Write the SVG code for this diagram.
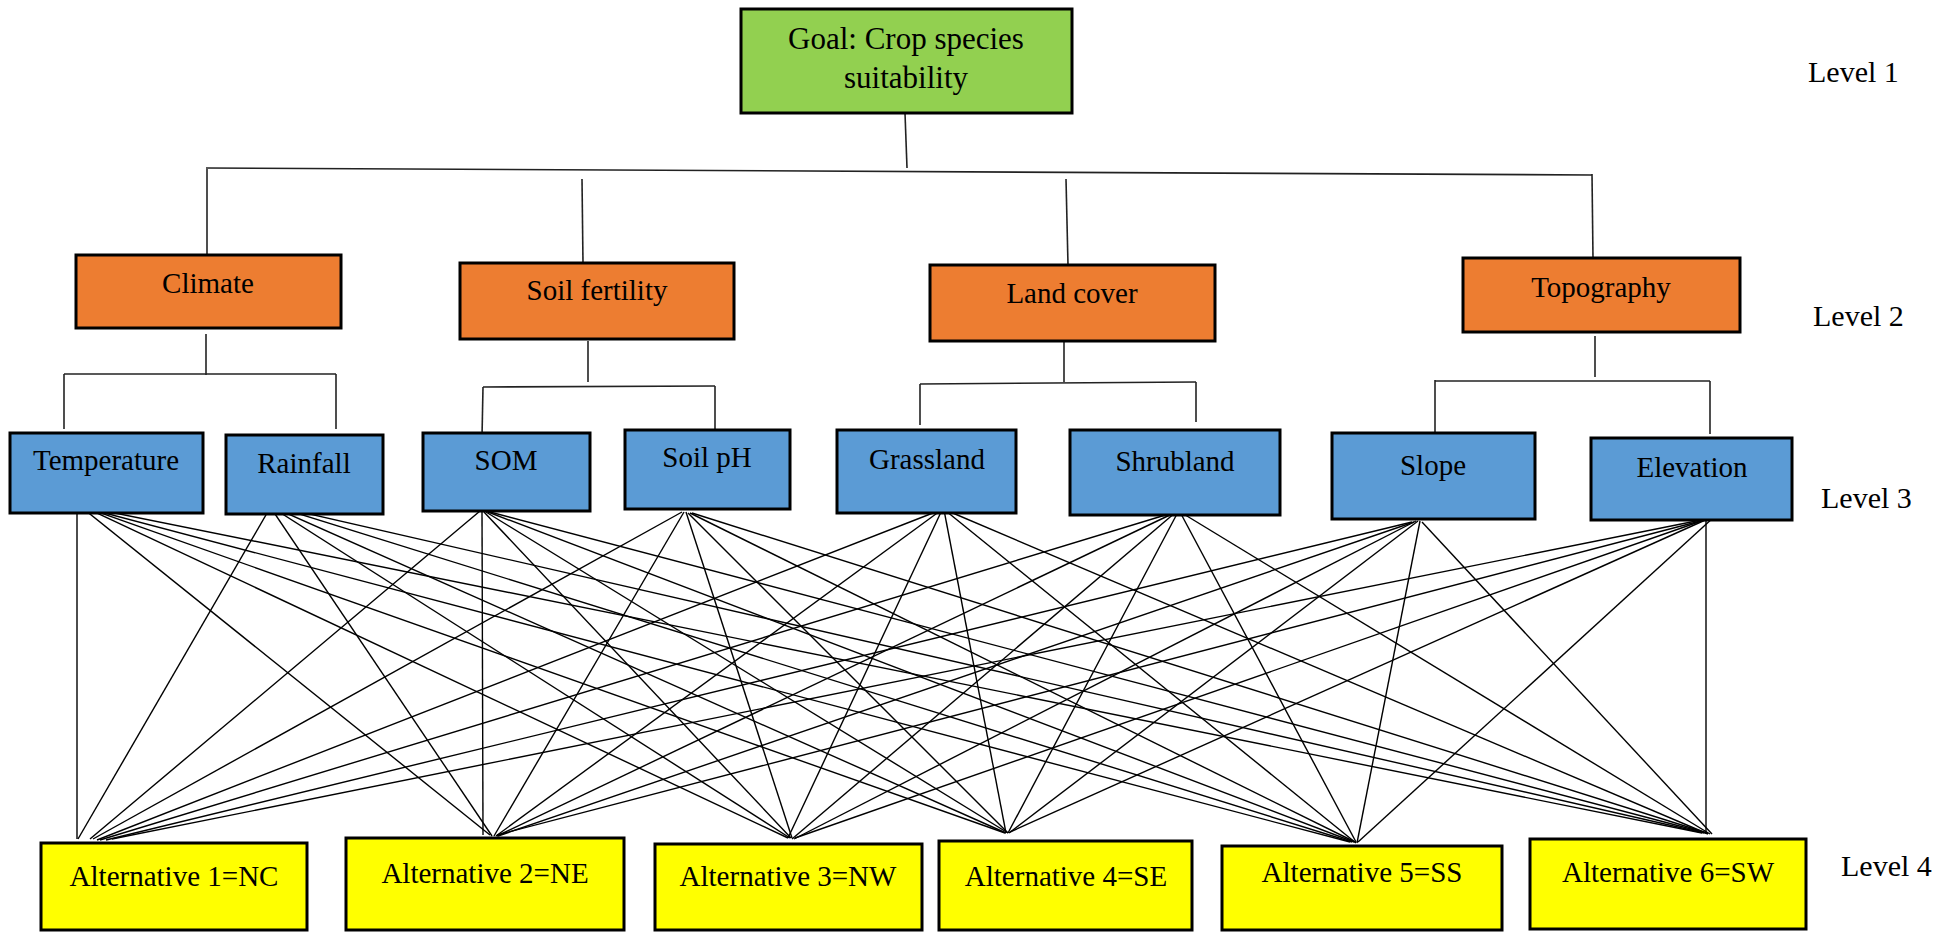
<svg xmlns="http://www.w3.org/2000/svg" width="1959" height="932" viewBox="0 0 1959 932">
<style>
.box{stroke:#000;stroke-width:3}
.g{fill:#92D050}.o{fill:#ED7D31}.b{fill:#5B9BD5}.y{fill:#FFFF00}
text{font-family:"Liberation Serif","Times New Roman",serif;fill:#000}
.t{font-size:29px;text-anchor:middle}
.lv{font-size:30px}
.tree line{stroke:#222;stroke-width:1.6}
.fan line{stroke:#000;stroke-width:1.4}
</style>
<rect width="1959" height="932" fill="#fff"/>
<g id="connectors">
<g class="tree">
<line x1="905" y1="113" x2="907" y2="168"/>
<line x1="206" y1="168" x2="1592" y2="175"/>
<line x1="207" y1="169" x2="207" y2="255"/>
<line x1="582" y1="179" x2="583" y2="263"/>
<line x1="1066" y1="179" x2="1068" y2="265"/>
<line x1="1592" y1="174" x2="1593" y2="258"/>
<line x1="206" y1="334" x2="206" y2="375"/>
<line x1="64" y1="374" x2="336" y2="374"/>
<line x1="64" y1="374" x2="64" y2="429"/>
<line x1="336" y1="374" x2="336" y2="429"/>
<line x1="588" y1="341" x2="588" y2="382"/>
<line x1="483" y1="387" x2="715" y2="386"/>
<line x1="483" y1="387" x2="482" y2="437"/>
<line x1="715" y1="386" x2="715" y2="433"/>
<line x1="1064" y1="341" x2="1064" y2="382"/>
<line x1="920" y1="384" x2="1196" y2="382"/>
<line x1="920" y1="384" x2="920" y2="425"/>
<line x1="1196" y1="382" x2="1196" y2="422"/>
<line x1="1595" y1="336" x2="1595" y2="377"/>
<line x1="1435" y1="381" x2="1710" y2="381"/>
<line x1="1435" y1="380" x2="1435" y2="432"/>
<line x1="1710" y1="381" x2="1710" y2="434"/>
</g>
<g class="fan">
<line x1="77" y1="507" x2="77" y2="839"/>
<line x1="80" y1="506" x2="490" y2="835"/>
<line x1="82" y1="506" x2="788" y2="838"/>
<line x1="84" y1="507" x2="1005" y2="833"/>
<line x1="86" y1="508" x2="1350" y2="842"/>
<line x1="90" y1="508" x2="1702" y2="833"/>
<line x1="270" y1="508" x2="78" y2="839"/>
<line x1="271" y1="508" x2="492" y2="836"/>
<line x1="273" y1="508" x2="790" y2="838"/>
<line x1="275" y1="508" x2="1006" y2="833"/>
<line x1="277" y1="507" x2="1352" y2="842"/>
<line x1="279" y1="507" x2="1704" y2="833"/>
<line x1="480" y1="511" x2="90" y2="839"/>
<line x1="482" y1="511" x2="483" y2="835"/>
<line x1="484" y1="512" x2="791" y2="838"/>
<line x1="486" y1="512" x2="1008" y2="833"/>
<line x1="488" y1="512" x2="1354" y2="842"/>
<line x1="490" y1="512" x2="1706" y2="833"/>
<line x1="682" y1="512" x2="93" y2="839"/>
<line x1="684" y1="512" x2="494" y2="836"/>
<line x1="686" y1="512" x2="792" y2="838"/>
<line x1="688" y1="513" x2="1008" y2="833"/>
<line x1="690" y1="513" x2="1355" y2="842"/>
<line x1="692" y1="513" x2="1707" y2="833"/>
<line x1="938" y1="511" x2="97" y2="840"/>
<line x1="940" y1="511" x2="496" y2="836"/>
<line x1="942" y1="510" x2="788" y2="838"/>
<line x1="944" y1="510" x2="1006" y2="833"/>
<line x1="946" y1="511" x2="1356" y2="843"/>
<line x1="948" y1="511" x2="1708" y2="834"/>
<line x1="1172" y1="513" x2="100" y2="840"/>
<line x1="1174" y1="513" x2="497" y2="836"/>
<line x1="1176" y1="512" x2="792" y2="839"/>
<line x1="1178" y1="512" x2="1008" y2="833"/>
<line x1="1180" y1="512" x2="1356" y2="842"/>
<line x1="1182" y1="513" x2="1710" y2="834"/>
<line x1="1412" y1="522" x2="106" y2="840"/>
<line x1="1414" y1="522" x2="498" y2="836"/>
<line x1="1416" y1="521" x2="794" y2="839"/>
<line x1="1418" y1="521" x2="1009" y2="833"/>
<line x1="1420" y1="521" x2="1357" y2="843"/>
<line x1="1422" y1="522" x2="1712" y2="834"/>
<line x1="1706" y1="519" x2="112" y2="839"/>
<line x1="1708" y1="519" x2="497" y2="835"/>
<line x1="1710" y1="518" x2="795" y2="838"/>
<line x1="1712" y1="517" x2="1010" y2="832"/>
<line x1="1714" y1="517" x2="1358" y2="842"/>
<line x1="1706" y1="518" x2="1706" y2="833"/>
</g>
</g>
<g id="goal"><rect class="box g" x="741" y="9" width="331" height="104"/><text class="t" style="font-size:31px" x="906" y="49">Goal: Crop species</text><text class="t" style="font-size:31px" x="906" y="88">suitability</text></g>
<g id="climate"><rect class="box o" x="76" y="255" width="265" height="73"/><text class="t" x="208" y="293">Climate</text></g>
<g id="soil-fertility"><rect class="box o" x="460" y="263" width="274" height="76"/><text class="t" x="597" y="300">Soil fertility</text></g>
<g id="land-cover"><rect class="box o" x="930" y="265" width="285" height="76"/><text class="t" x="1072" y="303">Land cover</text></g>
<g id="topography"><rect class="box o" x="1463" y="258" width="277" height="74"/><text class="t" x="1601" y="297">Topography</text></g>
<g id="temperature"><rect class="box b" x="10" y="433" width="193" height="80"/><text class="t" x="106" y="470">Temperature</text></g>
<g id="rainfall"><rect class="box b" x="226" y="435" width="157" height="79"/><text class="t" x="304" y="473">Rainfall</text></g>
<g id="som"><rect class="box b" x="423" y="433" width="167" height="78"/><text class="t" x="506" y="470">SOM</text></g>
<g id="soil-ph"><rect class="box b" x="625" y="430" width="165" height="79"/><text class="t" x="707" y="467">Soil pH</text></g>
<g id="grassland"><rect class="box b" x="837" y="430" width="179" height="83"/><text class="t" x="927" y="469">Grassland</text></g>
<g id="shrubland"><rect class="box b" x="1070" y="430" width="210" height="85"/><text class="t" x="1175" y="471">Shrubland</text></g>
<g id="slope"><rect class="box b" x="1332" y="433" width="203" height="86"/><text class="t" x="1433" y="475">Slope</text></g>
<g id="elevation"><rect class="box b" x="1591" y="438" width="201" height="82"/><text class="t" x="1692" y="477">Elevation</text></g>
<g id="alt1"><rect class="box y" x="41" y="843" width="266" height="87"/><text class="t" x="174" y="886">Alternative 1=NC</text></g>
<g id="alt2"><rect class="box y" x="346" y="838" width="278" height="92"/><text class="t" x="485" y="883">Alternative 2=NE</text></g>
<g id="alt3"><rect class="box y" x="655" y="844" width="267" height="86"/><text class="t" x="788" y="886">Alternative 3=NW</text></g>
<g id="alt4"><rect class="box y" x="939" y="841" width="253" height="89"/><text class="t" x="1066" y="886">Alternative 4=SE</text></g>
<g id="alt5"><rect class="box y" x="1222" y="846" width="280" height="84"/><text class="t" x="1362" y="882">Alternative 5=SS</text></g>
<g id="alt6"><rect class="box y" x="1530" y="839" width="276" height="90"/><text class="t" x="1668" y="882">Alternative 6=SW</text></g>
<g id="levels">
<text class="lv" x="1808" y="82">Level 1</text>
<text class="lv" x="1813" y="326">Level 2</text>
<text class="lv" x="1821" y="508">Level 3</text>
<text class="lv" x="1841" y="876">Level 4</text>
</g>
</svg>
